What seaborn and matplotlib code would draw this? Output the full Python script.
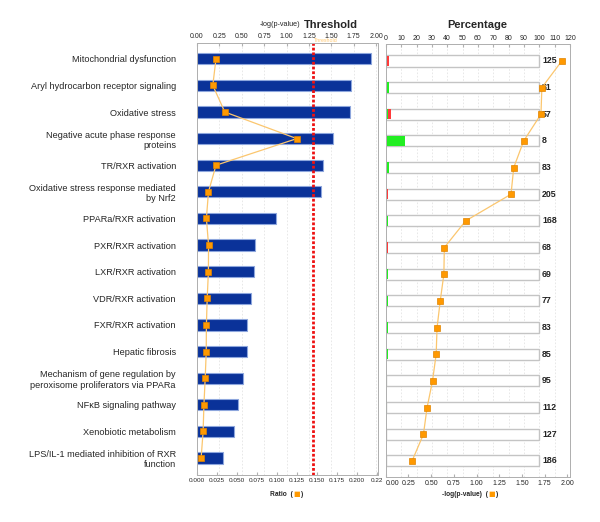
import numpy as np
import matplotlib
matplotlib.use("Agg")
import matplotlib.pyplot as plt
import seaborn as sns

# pathway names (as wrapped in the original)
pathways = [
    "Mitochondrial dysfunction",
    "Aryl hydrocarbon receptor signaling",
    "Oxidative stress",
    "Negative acute phase response\nproteins",
    "TR/RXR activation",
    "Oxidative stress response mediated\nby Nrf2",
    "PPARa/RXR activation",
    "PXR/RXR activation",
    "LXR/RXR activation",
    "VDR/RXR activation",
    "FXR/RXR activation",
    "Hepatic fibrosis",
    "Mechanism of gene regulation by\nperoxisome proliferators via PPARa",
    "NF\u03baB signaling pathway",
    "Xenobiotic metabolism",
    "LPS/IL-1 mediated inhibition of RXR\nfunction",
]
neg_log_p = [1.94, 1.72, 1.71, 1.52, 1.41, 1.38, 0.88, 0.645, 0.64, 0.60,
             0.565, 0.555, 0.515, 0.455, 0.415, 0.29]
ratio = [0.024, 0.020, 0.035, 0.125, 0.024, 0.0146, 0.012, 0.0147, 0.0145,
         0.013, 0.012, 0.0118, 0.0105, 0.0089, 0.0079, 0.0054]
totals = [125, 51, 57, 8, 83, 205, 168, 68, 69, 77, 83, 85, 95, 112, 127, 186]
up = [1, 1, 1, 1, 2, 0, 2, 0, 1, 1, 1, 1, 1, 1, 0, 0]
down = [2, 0, 1, 0, 0, 3, 0, 1, 0, 0, 0, 0, 0, 0, 1, 0]
threshold = 1.3

p_ticks = [0, 0.25, 0.5, 0.75, 1.0, 1.25, 1.5, 1.75, 2.0]
ratio_ticks = [0, 0.025, 0.05, 0.075, 0.1, 0.125, 0.15, 0.175, 0.2, 0.225]
ratio_labels = ["0.000", "0.025", "0.050", "0.075", "0.100", "0.125", "0.150",
                "0.175", "0.200", "0.22"]
pct_ticks = list(range(0, 121, 10))

sns.set_style("white")
plt.rcParams['font.family'] = ['Liberation Sans', 'DejaVu Sans']
narrow = ['Liberation Sans Narrow', 'Liberation Sans', 'DejaVu Sans']

n = len(pathways)
ypos = np.arange(n)
tot = np.array(totals)
pct_up = np.array(up) / tot * 100
pct_any = (np.array(up) + np.array(down)) / tot * 100

orange_line = '#fbc66e'
orange_mk = '#ff9900'
spine_c = '#b0b0b0'
grid_c = '#e4e4e4'

fig = plt.figure(figsize=(6, 5.22), dpi=100)

# ---------- left panel ----------
ax = fig.add_axes([0.328, 0.090, 0.302, 0.828])
ax.set_axisbelow(True)
sns.barplot(x=neg_log_p, y=pathways, orient='h', color='#0a3299', saturation=1,
            edgecolor='#8da6dd', linewidth=0.8, width=0.42, ax=ax)
ax.axvline(threshold, color='#ee1111', lw=2.0, ls=(0, (1, 0.7)), zorder=3)
ax.set_xlim(0, 2.02)
ax.set_ylim(n - 0.36, -0.6)
ax.grid(axis='x', color=grid_c, lw=0.6, ls=(0, (2, 2)))
ax.set_xlabel('')
ax.set_ylabel('')

ax_ratio = ax.twiny()
ax_ratio.plot(ratio, ypos, color=orange_line, lw=0.9, zorder=4)
ax_ratio.plot(ratio, ypos, ls='none', marker='s', ms=4, color=orange_mk,
              mec='#e08400', mew=0.5, zorder=5)
ax_ratio.set_xlim(0, 0.2265)

ax.xaxis.tick_top()
ax_ratio.xaxis.tick_bottom()
ax.tick_params(axis='x', direction='in', length=2.5, color=spine_c, pad=2)
ax_ratio.tick_params(axis='x', direction='in', length=2.5, color=spine_c, pad=2)
ax.tick_params(axis='y', length=0, pad=15)

ax.set_xticks(p_ticks)
ax.set_xticklabels([f"{t:.2f}" for t in p_ticks], family=narrow, fontsize=5)
ax.set_yticks(ypos)
ax.set_yticklabels(pathways, fontsize=6.6)
ax_ratio.set_xticks(ratio_ticks)
ax_ratio.set_xticklabels(ratio_labels, family=narrow, fontsize=4.6)

# ---------- right panel ----------
axr = fig.add_axes([0.643, 0.086, 0.307, 0.829])
axr.set_axisbelow(True)
sns.barplot(x=[100] * n, y=pathways, orient='h', color='white', saturation=1,
            edgecolor='#c4c4c4', linewidth=1.0, width=0.42, ax=axr)
sns.barplot(x=pct_any, y=pathways, orient='h', color='#ff3b3b', saturation=1,
            linewidth=0, width=0.38, ax=axr)
sns.barplot(x=pct_up, y=pathways, orient='h', color='#22ee22', saturation=1,
            linewidth=0, width=0.38, ax=axr)
axr.set_xlim(0, 120)
axr.set_ylim(n - 0.39, -0.62)
axr.grid(axis='x', color=grid_c, lw=0.6, ls=(0, (2, 2)))
axr.set_yticks([])
axr.set_xlabel('')
axr.set_ylabel('')
for i, t in enumerate(totals):
    axr.text(101.8, i, str(t), va='center', ha='left', fontsize=6.3,
             fontweight='bold', family=narrow, color='#222222')

ax_p = axr.twiny()
ax_p.plot(neg_log_p, ypos, color=orange_line, lw=0.9, zorder=4)
ax_p.plot(neg_log_p, ypos, ls='none', marker='s', ms=4, color=orange_mk,
          mec='#e08400', mew=0.5, zorder=5)
ax_p.set_xlim(0, 2.03)

axr.xaxis.tick_top()
ax_p.xaxis.tick_bottom()
axr.tick_params(axis='x', direction='in', length=2.5, color=spine_c, pad=2)
ax_p.tick_params(axis='x', direction='in', length=2.5, color=spine_c, pad=2)

axr.set_xticks(pct_ticks)
axr.set_xticklabels([str(t) for t in pct_ticks], family=narrow, fontsize=5)
ax_p.set_xticks(p_ticks)
ax_p.set_xticklabels([f"{t:.2f}" for t in p_ticks], family=narrow, fontsize=5)

for a in (ax, ax_ratio, axr, ax_p):
    for s in a.spines.values():
        s.set_color(spine_c)
        s.set_linewidth(0.7)

# keep the touching end labels of the two bottom axes apart
ax_p.get_xticklabels()[0].set_horizontalalignment('left')

# ---------- titles / axis captions ----------
fig.text(300 / 600, 1 - 25 / 522, '-log(p-value)', ha='right', va='center',
         fontsize=5.2, family=narrow)
fig.text(304 / 600, 1 - 25 / 522, 'Threshold', ha='left', va='center',
         fontsize=8, fontweight='bold')
fig.text(314 / 600, 1 - 41 / 522, 'Threshold', ha='left', va='center',
         fontsize=3.8, color='#ffc870')
fig.text(477 / 600, 1 - 25 / 522, 'Percentage', ha='center', va='center',
         fontsize=8, fontweight='bold')


def caption(xc, label):
    y = 1 - 494 / 522
    fig.text((xc - 4) / 600, y, label + '  (', ha='right', va='center',
             fontsize=4.8, fontweight='bold')
    fig.text(xc / 600, y, '\u25a0', ha='center', va='center',
             fontsize=5, color=orange_mk, family='DejaVu Sans')
    fig.text((xc + 4) / 600, y, ')', ha='left', va='center',
             fontsize=4.8, fontweight='bold')


caption(297, 'Ratio')
caption(492, '-log(p-value)')

fig.savefig('out.png', dpi=100)
